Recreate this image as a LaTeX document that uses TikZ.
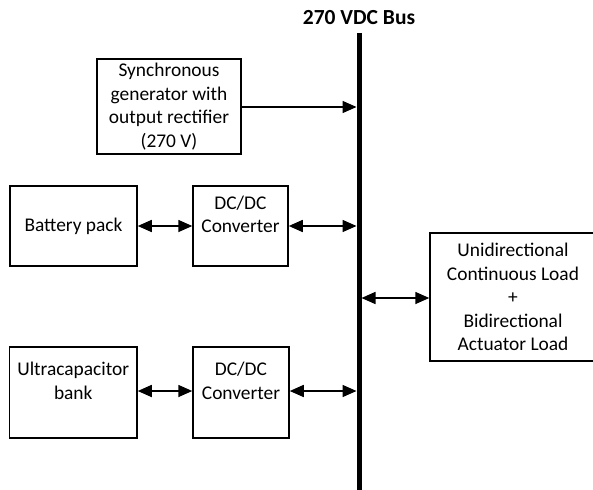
\documentclass[tikz,border=0pt]{standalone}
\usepackage{fontspec}
\setmainfont{Carlito}
\usetikzlibrary{arrows.meta}
\begin{document}
\begin{tikzpicture}[x=1pt,y=-1pt,
  every node/.style={font=\fontsize{19.4}{23.5}\selectfont},
  block/.style={draw, line width=1.5pt, inner sep=0pt, align=center},
  link/.style={line width=1.6pt, -{Triangle[length=14pt,width=12pt]}},
  duplex/.style={line width=1.6pt, {Triangle[length=14pt,width=12pt]}-{Triangle[length=14pt,width=12pt]}}]
\useasboundingbox (0,0) rectangle (593,489);

% DC bus
\coordinate (bustop) at (359,33);
\coordinate (busbot) at (359,495);
\draw[line width=5pt] (bustop) -- (busbot);
\node[font=\fontsize{21.5}{25}\selectfont\bfseries] (buslabel) at (359,18) {270 VDC Bus};

% sources, converters and load
\node[block, minimum width=144pt, minimum height=95pt] (gen) at (169,106.5)
  {Synchronous\\generator with\\output rectifier\\(270 V)};
\node[block, minimum width=127pt, minimum height=80pt] (bat) at (73.5,226) {Battery pack};
\node[block, minimum width=95pt, minimum height=80pt] (dc1) at (240.5,226) {DC/DC\\Converter\\\mbox{}};
\node[block, minimum width=127.5pt, minimum height=91pt] (uc) at (73.25,392.5) {Ultracapacitor\\bank\\\mbox{}};
\node[block, minimum width=96pt, minimum height=91pt] (dc2) at (241,392.5) {DC/DC\\Converter\\\mbox{}};
\node[block, minimum width=166pt, minimum height=128pt] (load) at (513,297)
  {Unidirectional\\Continuous Load\\+\\Bidirectional\\Actuator Load};

% taps on the bus
\coordinate (tapgen) at (356.5,107);
\coordinate (tapdc1) at (356.5,226);
\coordinate (tapdc2) at (356.5,391);
\coordinate (tapload) at (361.5,298);

% connections
\draw[link] (gen.east |- tapgen) -- (tapgen);
\draw[duplex] (bat.east) -- (dc1.west);
\draw[duplex] (dc1.east) -- (tapdc1);
\draw[duplex] (uc.east |- tapdc2) -- (dc2.west |- tapdc2);
\draw[duplex] (dc2.east |- tapdc2) -- (tapdc2);
\draw[duplex] (tapload) -- (load.west |- tapload);
\end{tikzpicture}
\end{document}
